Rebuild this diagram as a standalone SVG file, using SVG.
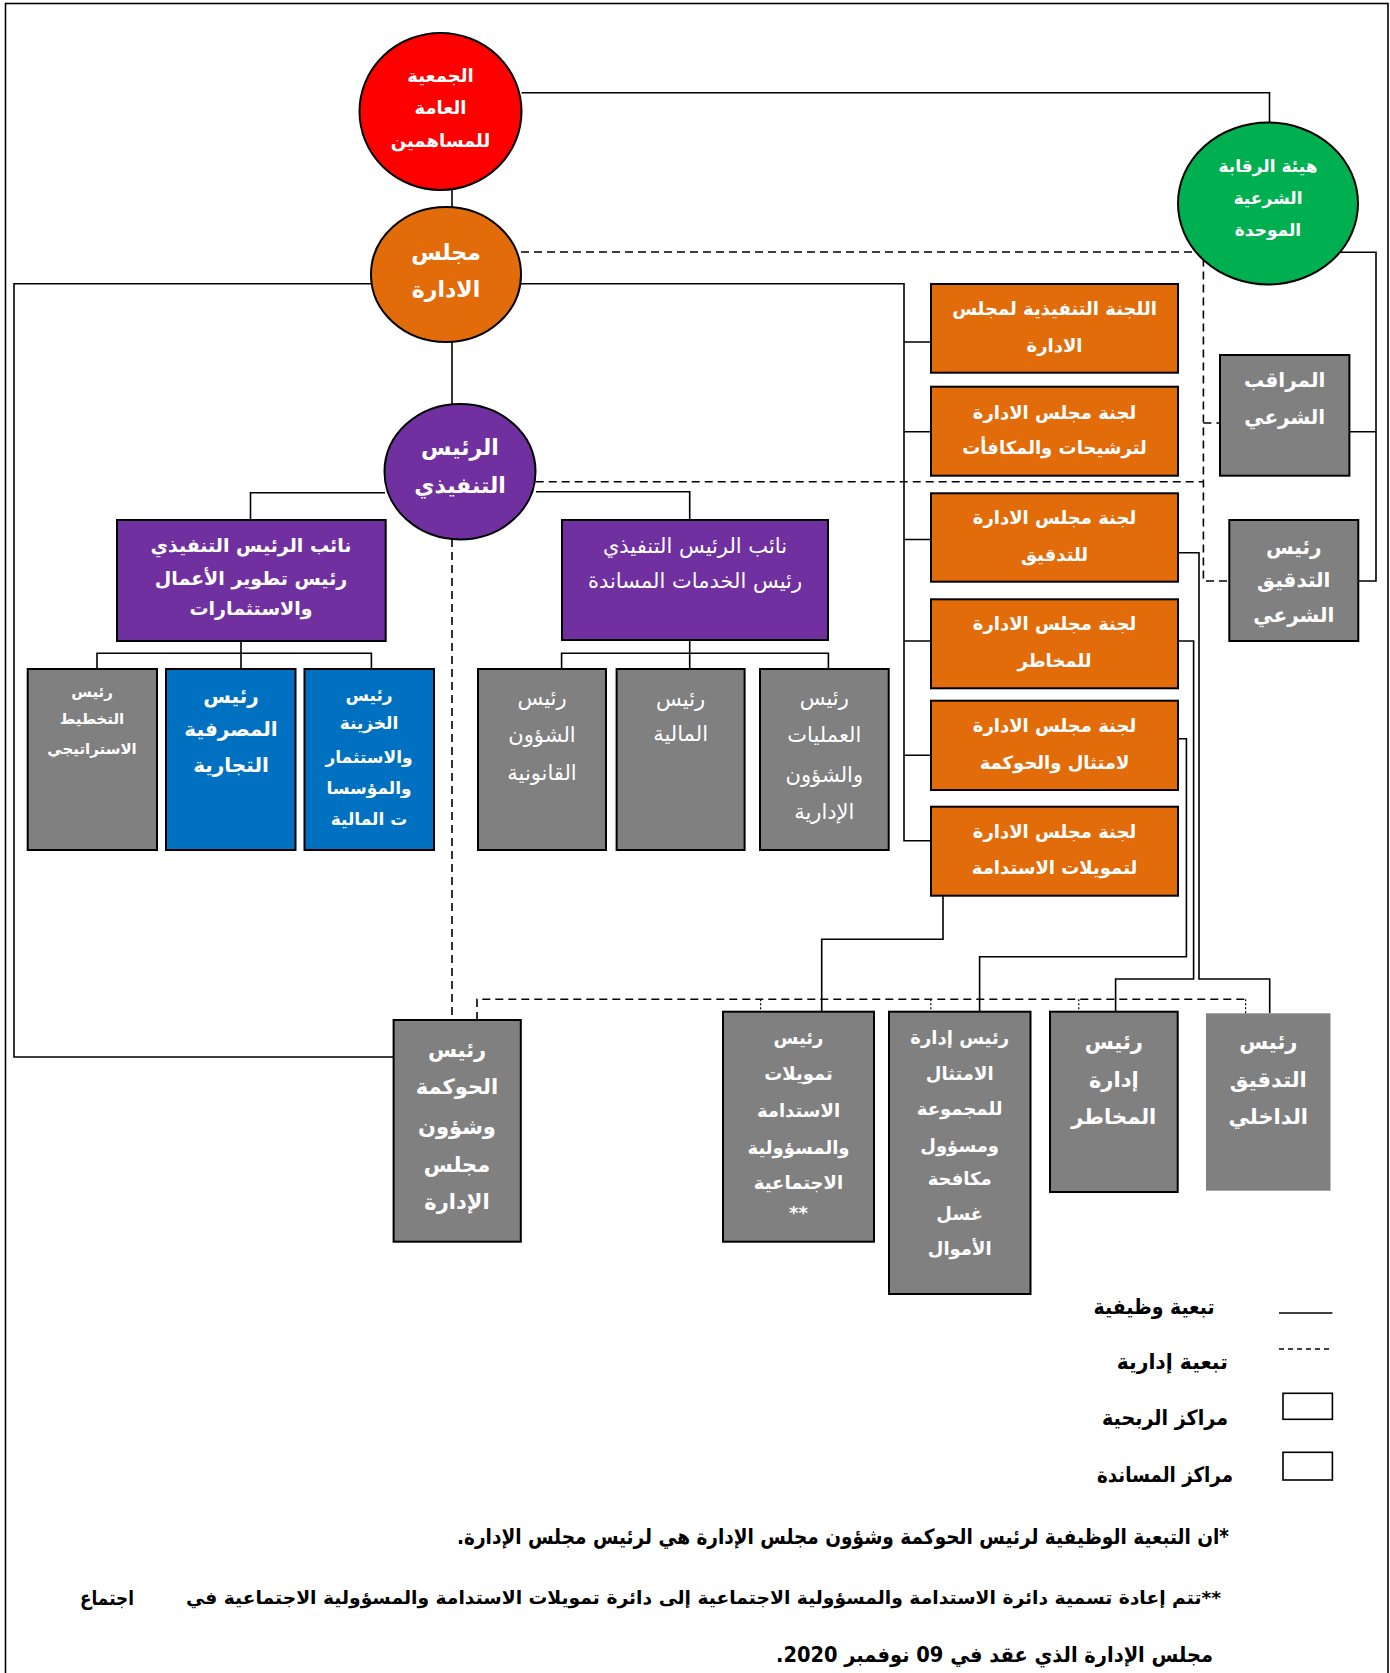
<svg xmlns="http://www.w3.org/2000/svg" width="1390" height="1673" viewBox="0 0 1390 1673">
<style>
  .frame { fill: none; stroke: #000; stroke-width: 1.6; }
  .n { stroke: #000; stroke-width: 2; }
  .red { fill: #FF0000; }
  .org { fill: #E36C0A; }
  .grn { fill: #00B050; }
  .pur { fill: #7030A0; }
  .blu { fill: #0070C0; }
  .gry { fill: #808080; }
  .c { fill: none; stroke: #000; stroke-width: 1.6; }
  .d { fill: none; stroke: #000; stroke-width: 1.6; stroke-dasharray: 8 5; }
  .dt { fill: none; stroke: #000; stroke-width: 1.2; stroke-dasharray: 2 2; }
  .t { font-family: "DejaVu Sans", "Noto Sans", sans-serif; fill: #fff; font-weight: bold; text-anchor: middle; dominant-baseline: central; }
  .r { font-weight: normal; }
  .k { font-family: "DejaVu Sans", "Noto Sans", sans-serif; fill: #000; font-weight: bold; dominant-baseline: central; }
</style>

<rect class="frame" x="5.5" y="3.5" width="1382.5" height="1680"/>

<!-- connectors -->
<g id="connectors">
  <path class="c" d="M452,190 V207"/>
  <path class="c" d="M521.6,92.7 H1269.5 V122.7"/>
  <path class="c" d="M452,342 V404"/>
  <path class="c" d="M371,283.7 H14 V1057 H393.6"/>
  <path class="c" d="M521,283.7 H904 V840.7 H931"/>
  <path class="c" d="M904,342 H931 M904,431.7 H931 M904,539.5 H931 M904,641 H931 M904,755.3 H931"/>
  <path class="c" d="M385,492.7 H250.5 V520"/>
  <path class="c" d="M536,491.7 H689.7 V520"/>
  <path class="c" d="M241,641 V669 M97,669 V653.3 H371.4 V669"/>
  <path class="c" d="M689.7,640 V669 M561.6,669 V653.3 H828.4 V669"/>
  <path class="c" d="M1340,252.3 H1376 V581 H1358.3 M1376,431.7 H1349.4"/>
  <path class="c" d="M1178,552.7 H1199 V979 H1269.7 V1013.3"/>
  <path class="c" d="M1178,641 H1193.6 V979 H1115.6 V1011.7"/>
  <path class="c" d="M1178,738.7 H1186.4 V956.7 H979.6 V1011.7"/>
  <path class="c" d="M943,895.7 V939.3 H821.7 V1011.7"/>
  <path class="d" d="M521,252 H1203.4 V581 H1229.3"/>
  <path class="d" d="M1203.4,423 H1220"/>
  <path class="d" d="M535.7,481.7 H1203.4"/>
  <path class="d" d="M452,539 V1020"/>
  <path class="d" d="M477,1020 V999.3 H1245.6"/>
  <path class="dt" d="M760.6,999.3 V1011.7 M930.8,999.3 V1011.7 M1078.8,999.3 V1011.7 M1245.6,999.3 V1013.3"/>
</g>

<!-- top bodies -->
<g id="general-assembly">
  <ellipse class="n red" cx="440.5" cy="111.5" rx="81" ry="78.5"/>
  <text class="t" font-size="18"><tspan x="440.5" y="75">الجمعية</tspan><tspan x="440.5" y="107">العامة</tspan><tspan x="440.5" y="140">للمساهمين</tspan></text>
</g>
<g id="board">
  <ellipse class="n org" cx="446" cy="274.5" rx="75" ry="67.5"/>
  <text class="t" font-size="22"><tspan x="446" y="252">مجلس</tspan><tspan x="446" y="289">الادارة</tspan></text>
</g>
<g id="sharia-board">
  <ellipse class="n grn" cx="1268" cy="203.5" rx="90" ry="81"/>
  <text class="t" font-size="17"><tspan x="1268" y="166">هيئة الرقابة</tspan><tspan x="1268" y="198">الشرعية</tspan><tspan x="1268" y="230">الموحدة</tspan></text>
</g>
<g id="ceo">
  <ellipse class="n pur" cx="460" cy="471.7" rx="75.5" ry="67.7"/>
  <text class="t" font-size="22"><tspan x="460" y="446.7">الرئيس</tspan><tspan x="460" y="485">التنفيذي</tspan></text>
</g>

<!-- deputy CEOs -->
<g id="dceo-business">
  <rect class="n pur" x="117" y="520" width="268.7" height="121"/>
  <text class="t" font-size="19"><tspan x="251" y="545">نائب الرئيس التنفيذي</tspan><tspan x="251" y="577.7">رئيس تطوير الأعمال</tspan><tspan x="251" y="608.3">والاستثمارات</tspan></text>
</g>
<g id="dceo-support">
  <rect class="n pur" x="562" y="520" width="266" height="120"/>
  <text class="t r" font-size="21"><tspan x="695" y="546">نائب الرئيس التنفيذي</tspan><tspan x="695" y="581">رئيس الخدمات المساندة</tspan></text>
</g>

<!-- business units -->
<g id="strategy">
  <rect class="n gry" x="27.7" y="669" width="129.3" height="181"/>
  <text class="t" font-size="15"><tspan x="92" y="691.7">رئيس</tspan><tspan x="92" y="719">التخطيط</tspan><tspan x="92" y="749">الاستراتيجي</tspan></text>
</g>
<g id="banking">
  <rect class="n blu" x="166" y="669" width="129.5" height="181"/>
  <text class="t" font-size="20"><tspan x="231" y="696">رئيس</tspan><tspan x="231" y="729">المصرفية</tspan><tspan x="231" y="765">التجارية</tspan></text>
</g>
<g id="treasury">
  <rect class="n blu" x="304.5" y="669" width="129.5" height="181"/>
  <text class="t" font-size="17"><tspan x="369" y="695">رئيس</tspan><tspan x="369" y="723">الخزينة</tspan><tspan x="369" y="756.7">والاستثمار</tspan><tspan x="369" y="788">والمؤسسا</tspan><tspan x="369" y="819">ت المالية</tspan></text>
</g>

<!-- support units -->
<g id="legal">
  <rect class="n gry" x="478" y="669" width="128" height="181"/>
  <text class="t r" font-size="21"><tspan x="542" y="698">رئيس</tspan><tspan x="542" y="735">الشؤون</tspan><tspan x="542" y="773">القانونية</tspan></text>
</g>
<g id="finance">
  <rect class="n gry" x="616.6" y="669" width="128" height="181"/>
  <text class="t r" font-size="21"><tspan x="680.6" y="699">رئيس</tspan><tspan x="680.6" y="734">المالية</tspan></text>
</g>
<g id="operations">
  <rect class="n gry" x="760" y="669" width="128.7" height="181"/>
  <text class="t r" font-size="21"><tspan x="824.3" y="698">رئيس</tspan><tspan x="824.3" y="735">العمليات</tspan><tspan x="824.3" y="775">والشؤون</tspan><tspan x="824.3" y="811.7">الإدارية</tspan></text>
</g>

<!-- board committees -->
<g id="committee-executive">
  <rect class="n org" x="931" y="284" width="247" height="88.7"/>
  <text class="t" font-size="18"><tspan x="1054.5" y="308">اللجنة التنفيذية لمجلس</tspan><tspan x="1054.5" y="345">الادارة</tspan></text>
</g>
<g id="committee-nomination">
  <rect class="n org" x="931" y="386.7" width="247" height="89"/>
  <text class="t" font-size="18"><tspan x="1054.5" y="411.7">لجنة مجلس الادارة</tspan><tspan x="1054.5" y="446.7">لترشيحات والمكافأت</tspan></text>
</g>
<g id="committee-audit">
  <rect class="n org" x="931" y="493.3" width="247" height="88.4"/>
  <text class="t" font-size="18"><tspan x="1054.5" y="517">لجنة مجلس الادارة</tspan><tspan x="1054.5" y="554">للتدقيق</tspan></text>
</g>
<g id="committee-risk">
  <rect class="n org" x="931" y="599.3" width="247" height="89"/>
  <text class="t" font-size="18"><tspan x="1054.5" y="623">لجنة مجلس الادارة</tspan><tspan x="1054.5" y="660">للمخاطر</tspan></text>
</g>
<g id="committee-compliance">
  <rect class="n org" x="931" y="700.7" width="247" height="89.3"/>
  <text class="t" font-size="18"><tspan x="1054.5" y="725">لجنة مجلس الادارة</tspan><tspan x="1054.5" y="761.7">لامتثال والحوكمة</tspan></text>
</g>
<g id="committee-sustainability">
  <rect class="n org" x="931" y="806.7" width="247" height="89"/>
  <text class="t" font-size="18"><tspan x="1054.5" y="830.7">لجنة مجلس الادارة</tspan><tspan x="1054.5" y="866.7">لتمويلات الاستدامة</tspan></text>
</g>

<!-- sharia units -->
<g id="sharia-supervisor">
  <rect class="n gry" x="1220" y="355" width="129.4" height="120.7"/>
  <text class="t" font-size="20"><tspan x="1284.7" y="380">المراقب</tspan><tspan x="1284.7" y="416.7">الشرعي</tspan></text>
</g>
<g id="sharia-audit">
  <rect class="n gry" x="1229.3" y="520" width="129" height="121"/>
  <text class="t" font-size="20"><tspan x="1293.8" y="546.7">رئيس</tspan><tspan x="1293.8" y="580">التدقيق</tspan><tspan x="1293.8" y="615">الشرعي</tspan></text>
</g>

<!-- control functions -->
<g id="governance">
  <rect class="n gry" x="393.6" y="1020" width="127.2" height="221.7"/>
  <text class="t" font-size="21"><tspan x="457" y="1050">رئيس</tspan><tspan x="457" y="1086.7">الحوكمة</tspan><tspan x="457" y="1126.7">وشؤون</tspan><tspan x="457" y="1165">مجلس</tspan><tspan x="457" y="1201.7">الإدارة</tspan></text>
</g>
<g id="sustainability">
  <rect class="n gry" x="723" y="1011.7" width="151" height="230"/>
  <text class="t" font-size="18"><tspan x="798.5" y="1036.7">رئيس</tspan><tspan x="798.5" y="1073">تمويلات</tspan><tspan x="798.5" y="1110">الاستدامة</tspan><tspan x="798.5" y="1146.7">والمسؤولية</tspan><tspan x="798.5" y="1181.7">الاجتماعية</tspan><tspan x="798.5" y="1211.7">**</tspan></text>
</g>
<g id="compliance">
  <rect class="n gry" x="889" y="1011.7" width="141.5" height="282.3"/>
  <text class="t" font-size="18"><tspan x="959.7" y="1036.7">رئيس إدارة</tspan><tspan x="959.7" y="1073">الامتثال</tspan><tspan x="959.7" y="1108">للمجموعة</tspan><tspan x="959.7" y="1145">ومسؤول</tspan><tspan x="959.7" y="1178">مكافحة</tspan><tspan x="959.7" y="1213">غسل</tspan><tspan x="959.7" y="1248">الأموال</tspan></text>
</g>
<g id="risk">
  <rect class="n gry" x="1050" y="1011.7" width="127.7" height="180.3"/>
  <text class="t" font-size="21"><tspan x="1113.8" y="1041.7">رئيس</tspan><tspan x="1113.8" y="1080">إدارة</tspan><tspan x="1113.8" y="1116.7">المخاطر</tspan></text>
</g>
<g id="internal-audit">
  <rect class="gry" x="1206" y="1013.3" width="124.5" height="177.4"/>
  <text class="t" font-size="21"><tspan x="1268.3" y="1041.7">رئيس</tspan><tspan x="1268.3" y="1080">التدقيق</tspan><tspan x="1268.3" y="1116.7">الداخلي</tspan></text>
</g>

<!-- legend -->
<g id="legend">
  <path class="c" d="M1279,1313 H1332.4"/>
  <path class="c" d="M1279,1349 H1332.4" stroke-dasharray="5 4"/>
  <rect x="1283" y="1393.3" width="49.4" height="26" fill="#fff" stroke="#000" stroke-width="1.6"/>
  <rect x="1283" y="1452.3" width="49.4" height="27.7" fill="#fff" stroke="#000" stroke-width="1.6"/>
  <text class="k" font-size="21" direction="rtl" text-anchor="start" x="1214.5" y="1306.7" textLength="121" lengthAdjust="spacingAndGlyphs">تبعية وظيفية</text>
  <text class="k" font-size="21" direction="rtl" text-anchor="start" x="1227.8" y="1362" textLength="111" lengthAdjust="spacingAndGlyphs">تبعية إدارية</text>
  <text class="k" font-size="21" direction="rtl" text-anchor="start" x="1228" y="1418" textLength="126" lengthAdjust="spacingAndGlyphs">مراكز الربحية</text>
  <text class="k" font-size="21" direction="rtl" text-anchor="start" x="1233" y="1475" textLength="136" lengthAdjust="spacingAndGlyphs">مراكز المساندة</text>
</g>

<!-- notes -->
<g id="notes">
  <text class="k" font-size="21" direction="rtl" text-anchor="start" x="1229" y="1536.5" textLength="772" lengthAdjust="spacingAndGlyphs">*ان التبعية الوظيفية لرئيس الحوكمة وشؤون مجلس الإدارة هي لرئيس مجلس الإدارة.</text>
  <text class="k" font-size="18" direction="rtl" text-anchor="start" x="1221" y="1597.5" textLength="1035" lengthAdjust="spacingAndGlyphs">**تتم إعادة تسمية دائرة الاستدامة والمسؤولية الاجتماعية إلى دائرة تمويلات الاستدامة والمسؤولية الاجتماعية في</text>
  <text class="k" font-size="20" direction="rtl" text-anchor="start" x="134" y="1597.5" textLength="54" lengthAdjust="spacingAndGlyphs">اجتماع</text>
  <text class="k" font-size="21" direction="rtl" text-anchor="start" x="1213" y="1655" textLength="437" lengthAdjust="spacingAndGlyphs">مجلس الإدارة الذي عقد في 09 نوفمبر 2020.</text>
</g>
</svg>
